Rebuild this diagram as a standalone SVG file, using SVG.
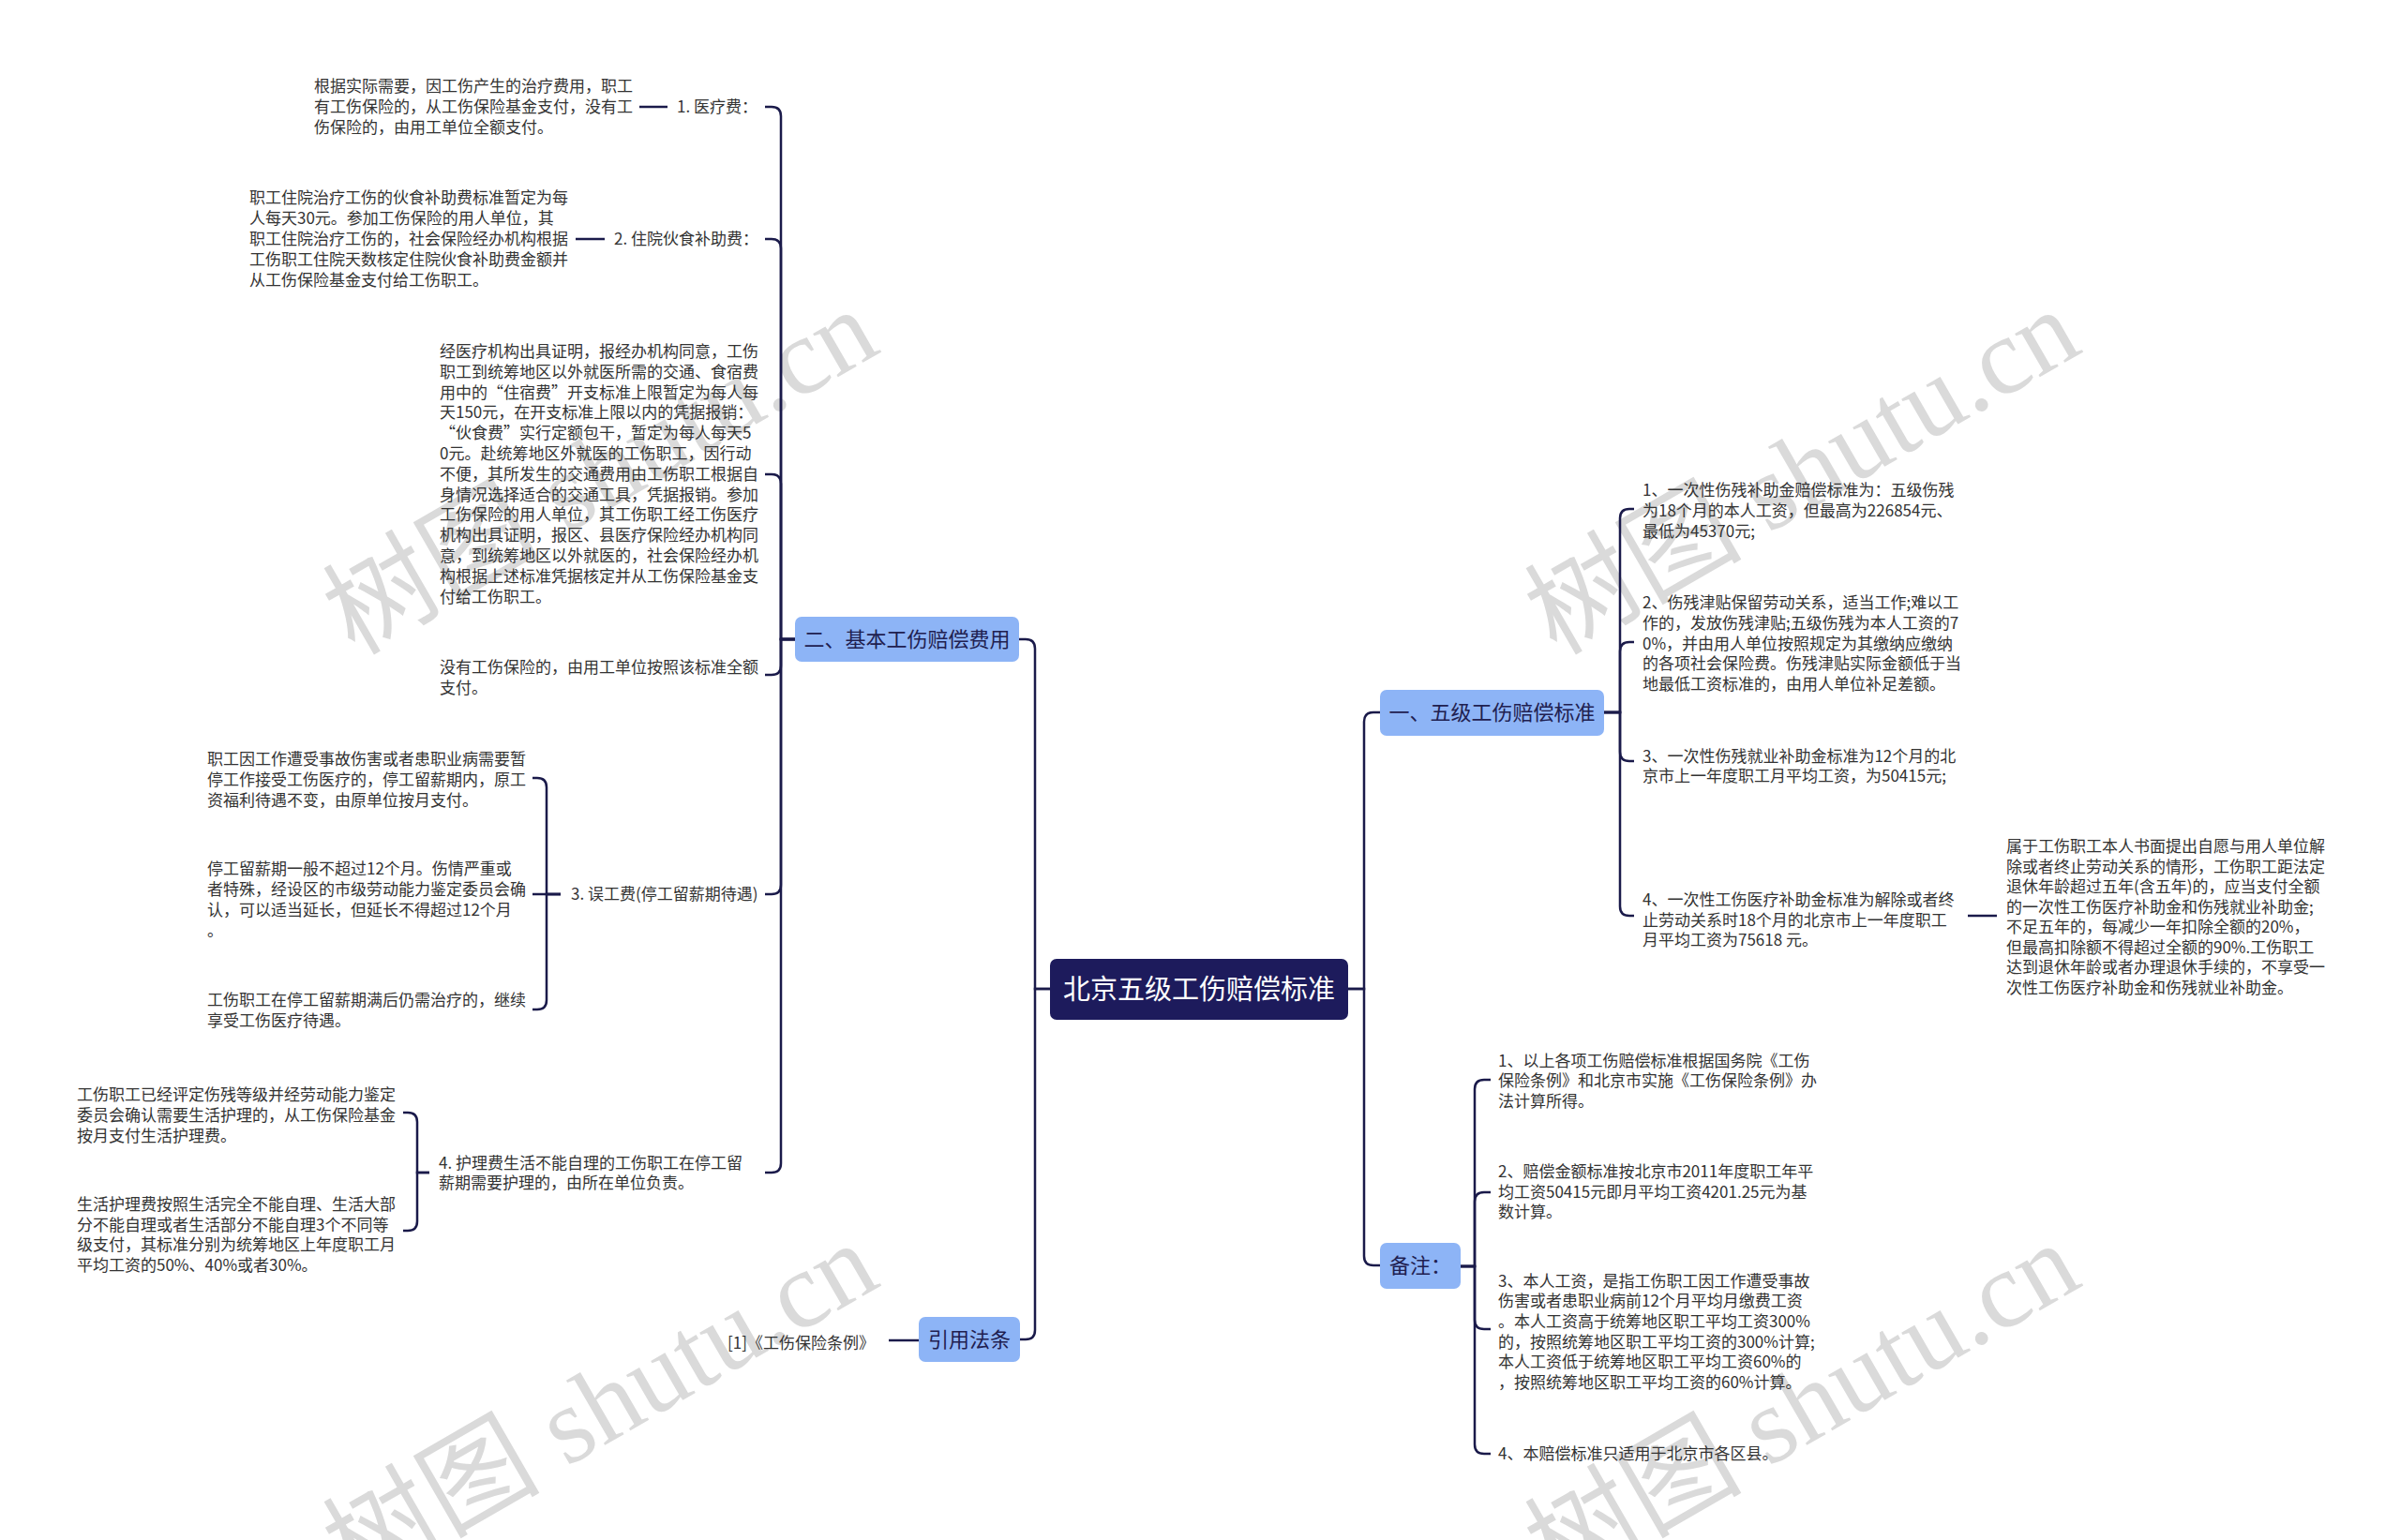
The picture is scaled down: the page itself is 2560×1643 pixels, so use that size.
<svg xmlns="http://www.w3.org/2000/svg" width="2560" height="1643" viewBox="0 0 2560 1643">
<style>
.t{font-family:"Noto Sans CJK SC","Liberation Sans",sans-serif;font-size:17px;fill:#333}
.l1{font-family:"Noto Sans CJK SC","Liberation Sans",sans-serif;font-size:22px;fill:#1f2050}
.root{font-family:"Noto Sans CJK SC","Liberation Sans",sans-serif;font-size:29px;fill:#fff}
.c{fill:none;stroke:#1a1a4a;stroke-width:2.5}
.b1{fill:#8db4f6}
.wm{font-family:"Liberation Serif","Noto Sans CJK SC",serif;font-size:116px;fill:#dadada}
</style>
<rect width="2560" height="1643" fill="#fff"/>
<g id="watermarks">
<text class="wm" x="378" y="700" transform="rotate(-30 378 700)">树图 shutu.cn</text>
<text class="wm" x="1660" y="700" transform="rotate(-30 1660 700)">树图 shutu.cn</text>
<text class="wm" x="378" y="1696" transform="rotate(-30 378 1696)">树图 shutu.cn</text>
<text class="wm" x="1660" y="1696" transform="rotate(-30 1660 1696)">树图 shutu.cn</text>
</g>
<g id="connectors">
<path class="c" d="M1120,1055 H1104 V692 Q1104,682 1094,682 H1087"/>
<path class="c" d="M1120,1055 H1104 V1419 Q1104,1429 1094,1429 H1088"/>
<path class="c" d="M1438,1055 H1455 V770 Q1455,760 1465,760 H1472"/>
<path class="c" d="M1438,1055 H1455 V1340 Q1455,1350 1465,1350 H1472"/>
<path class="c" d="M848,682 H833 V124 Q833,114 823,114 H816"/>
<path class="c" d="M848,682 H833 V265 Q833,255 823,255 H816"/>
<path class="c" d="M848,682 H833 V516 Q833,506 823,506 H816"/>
<path class="c" d="M848,682 H833 V710 Q833,720 823,720 H816"/>
<path class="c" d="M848,682 H833 V944 Q833,954 823,954 H816"/>
<path class="c" d="M848,682 H833 V1241 Q833,1251 823,1251 H816"/>
<path class="c" d="M712,114 H682"/>
<path class="c" d="M645,255 H614"/>
<path class="c" d="M598,954 H583 V840 Q583,830 573,830 H568"/>
<path class="c" d="M598,954 H568"/>
<path class="c" d="M598,954 H583 V1067 Q583,1077 573,1077 H568"/>
<path class="c" d="M458,1251 H445 V1197 Q445,1187 435,1187 H430"/>
<path class="c" d="M458,1251 H445 V1303 Q445,1313 435,1313 H430"/>
<path class="c" d="M980,1430 H948"/>
<path class="c" d="M1711,760 H1728 V553 Q1728,543 1738,543 H1743"/>
<path class="c" d="M1711,760 H1728 V695 Q1728,685 1738,685 H1743"/>
<path class="c" d="M1711,760 H1728 V802 Q1728,812 1738,812 H1743"/>
<path class="c" d="M1711,760 H1728 V967 Q1728,977 1738,977 H1743"/>
<path class="c" d="M2099,977 H2130"/>
<path class="c" d="M1558,1351 H1573 V1162 Q1573,1152 1583,1152 H1590"/>
<path class="c" d="M1558,1351 H1573 V1282 Q1573,1272 1583,1272 H1590"/>
<path class="c" d="M1558,1351 H1573 V1408 Q1573,1418 1583,1418 H1590"/>
<path class="c" d="M1558,1351 H1573 V1541 Q1573,1551 1583,1551 H1590"/>
</g>
<g id="root">
<rect x="1120" y="1023" width="318" height="65" rx="7" fill="#1d1b5c"/>
<text class="root" x="1279" y="1066" text-anchor="middle">北京五级工伤赔偿标准</text>
</g>
<g id="n-basic">
<rect class="b1" x="848" y="658" width="239" height="48" rx="7"/>
<text class="l1" x="967.5" y="690" text-anchor="middle">二、基本工伤赔偿费用</text>
</g>
<g id="n-law">
<rect class="b1" x="980" y="1405" width="108" height="48" rx="7"/>
<text class="l1" x="1034" y="1437" text-anchor="middle">引用法条</text>
</g>
<g id="n-std">
<rect class="b1" x="1472" y="736" width="239" height="49" rx="7"/>
<text class="l1" x="1591.5" y="768" text-anchor="middle">一、五级工伤赔偿标准</text>
</g>
<g id="n-note">
<rect class="b1" x="1472" y="1326" width="86" height="49" rx="7"/>
<text class="l1" x="1482" y="1358">备注：</text>
</g>
<g id="n-medical">
<text class="t" x="722" y="120">1. 医疗费：</text>
</g>
<g id="n-medical-d">
<text class="t"><tspan x="335" y="98">根据实际需要，因工伤产生的治疗费用，职工</tspan><tspan x="335" y="120">有工伤保险的，从工伤保险基金支付，没有工</tspan><tspan x="335" y="142">伤保险的，由用工单位全额支付。</tspan></text>
</g>
<g id="n-food">
<text class="t" x="655" y="261">2. 住院伙食补助费：</text>
</g>
<g id="n-food-d">
<text class="t"><tspan x="266" y="217">职工住院治疗工伤的伙食补助费标准暂定为每</tspan><tspan x="266" y="239">人每天30元。参加工伤保险的用人单位，其</tspan><tspan x="266" y="261">职工住院治疗工伤的，社会保险经办机构根据</tspan><tspan x="266" y="283">工伤职工住院天数核定住院伙食补助费金额并</tspan><tspan x="266" y="305">从工伤保险基金支付给工伤职工。</tspan></text>
</g>
<g id="n-travel">
<text class="t"><tspan x="469" y="381">经医疗机构出具证明，报经办机构同意，工伤</tspan><tspan x="469" y="402.8">职工到统筹地区以外就医所需的交通、食宿费</tspan><tspan x="469" y="424.6">用中的“住宿费”开支标准上限暂定为每人每</tspan><tspan x="469" y="446.4">天150元，在开支标准上限以内的凭据报销：</tspan><tspan x="469" y="468.2">“伙食费”实行定额包干，暂定为每人每天5</tspan><tspan x="469" y="490">0元。赴统筹地区外就医的工伤职工，因行动</tspan><tspan x="469" y="511.8">不便，其所发生的交通费用由工伤职工根据自</tspan><tspan x="469" y="533.6">身情况选择适合的交通工具，凭据报销。参加</tspan><tspan x="469" y="555.4">工伤保险的用人单位，其工伤职工经工伤医疗</tspan><tspan x="469" y="577.2">机构出具证明，报区、县医疗保险经办机构同</tspan><tspan x="469" y="599">意，到统筹地区以外就医的，社会保险经办机</tspan><tspan x="469" y="620.8">构根据上述标准凭据核定并从工伤保险基金支</tspan><tspan x="469" y="642.6">付给工伤职工。</tspan></text>
</g>
<g id="n-noins">
<text class="t"><tspan x="469" y="718">没有工伤保险的，由用工单位按照该标准全额</tspan><tspan x="469" y="740">支付。</tspan></text>
</g>
<g id="n-wage">
<text class="t" x="609" y="960">3. 误工费(停工留薪期待遇)</text>
</g>
<g id="n-wage-1">
<text class="t"><tspan x="221" y="816">职工因工作遭受事故伤害或者患职业病需要暂</tspan><tspan x="221" y="838">停工作接受工伤医疗的，停工留薪期内，原工</tspan><tspan x="221" y="860">资福利待遇不变，由原单位按月支付。</tspan></text>
</g>
<g id="n-wage-2">
<text class="t"><tspan x="221" y="933">停工留薪期一般不超过12个月。伤情严重或</tspan><tspan x="221" y="955">者特殊，经设区的市级劳动能力鉴定委员会确</tspan><tspan x="221" y="977">认，可以适当延长，但延长不得超过12个月</tspan><tspan x="221" y="999">。</tspan></text>
</g>
<g id="n-wage-3">
<text class="t"><tspan x="221" y="1073">工伤职工在停工留薪期满后仍需治疗的，继续</tspan><tspan x="221" y="1095">享受工伤医疗待遇。</tspan></text>
</g>
<g id="n-care">
<text class="t"><tspan x="468" y="1247">4. 护理费生活不能自理的工伤职工在停工留</tspan><tspan x="468" y="1268">薪期需要护理的，由所在单位负责。</tspan></text>
</g>
<g id="n-care-1">
<text class="t"><tspan x="82" y="1174">工伤职工已经评定伤残等级并经劳动能力鉴定</tspan><tspan x="82" y="1196">委员会确认需要生活护理的，从工伤保险基金</tspan><tspan x="82" y="1218">按月支付生活护理费。</tspan></text>
</g>
<g id="n-care-2">
<text class="t"><tspan x="82" y="1291">生活护理费按照生活完全不能自理、生活大部</tspan><tspan x="82" y="1313">分不能自理或者生活部分不能自理3个不同等</tspan><tspan x="82" y="1334">级支付，其标准分别为统筹地区上年度职工月</tspan><tspan x="82" y="1356">平均工资的50%、40%或者30%。</tspan></text>
</g>
<g id="n-law-1">
<text class="t" x="933" y="1439" text-anchor="end">[1]《工伤保险条例》</text>
</g>
<g id="n-std-1">
<text class="t"><tspan x="1752" y="529">1、一次性伤残补助金赔偿标准为：五级伤残</tspan><tspan x="1752" y="551">为18个月的本人工资，但最高为226854元、</tspan><tspan x="1752" y="573">最低为45370元;</tspan></text>
</g>
<g id="n-std-2">
<text class="t"><tspan x="1752" y="649">2、伤残津贴保留劳动关系，适当工作;难以工</tspan><tspan x="1752" y="671">作的，发放伤残津贴;五级伤残为本人工资的7</tspan><tspan x="1752" y="693">0%，并由用人单位按照规定为其缴纳应缴纳</tspan><tspan x="1752" y="714">的各项社会保险费。伤残津贴实际金额低于当</tspan><tspan x="1752" y="736">地最低工资标准的，由用人单位补足差额。</tspan></text>
</g>
<g id="n-std-3">
<text class="t"><tspan x="1752" y="813">3、一次性伤残就业补助金标准为12个月的北</tspan><tspan x="1752" y="834">京市上一年度职工月平均工资，为50415元;</tspan></text>
</g>
<g id="n-std-4">
<text class="t"><tspan x="1752" y="966">4、一次性工伤医疗补助金标准为解除或者终</tspan><tspan x="1752" y="988">止劳动关系时18个月的北京市上一年度职工</tspan><tspan x="1752" y="1009">月平均工资为75618 元。</tspan></text>
</g>
<g id="n-std-4-1">
<text class="t"><tspan x="2140" y="909">属于工伤职工本人书面提出自愿与用人单位解</tspan><tspan x="2140" y="930.5">除或者终止劳动关系的情形，工伤职工距法定</tspan><tspan x="2140" y="952">退休年龄超过五年(含五年)的，应当支付全额</tspan><tspan x="2140" y="973.5">的一次性工伤医疗补助金和伤残就业补助金;</tspan><tspan x="2140" y="995">不足五年的，每减少一年扣除全额的20%，</tspan><tspan x="2140" y="1016.5">但最高扣除额不得超过全额的90%.工伤职工</tspan><tspan x="2140" y="1038">达到退休年龄或者办理退休手续的，不享受一</tspan><tspan x="2140" y="1059.5">次性工伤医疗补助金和伤残就业补助金。</tspan></text>
</g>
<g id="n-note-1">
<text class="t"><tspan x="1598" y="1138">1、以上各项工伤赔偿标准根据国务院《工伤</tspan><tspan x="1598" y="1159">保险条例》和北京市实施《工伤保险条例》办</tspan><tspan x="1598" y="1181">法计算所得。</tspan></text>
</g>
<g id="n-note-2">
<text class="t"><tspan x="1598" y="1256">2、赔偿金额标准按北京市2011年度职工年平</tspan><tspan x="1598" y="1278">均工资50415元即月平均工资4201.25元为基</tspan><tspan x="1598" y="1299">数计算。</tspan></text>
</g>
<g id="n-note-3">
<text class="t"><tspan x="1598" y="1373">3、本人工资，是指工伤职工因工作遭受事故</tspan><tspan x="1598" y="1394">伤害或者患职业病前12个月平均月缴费工资</tspan><tspan x="1598" y="1416">。本人工资高于统筹地区职工平均工资300%</tspan><tspan x="1598" y="1438">的，按照统筹地区职工平均工资的300%计算;</tspan><tspan x="1598" y="1459">本人工资低于统筹地区职工平均工资60%的</tspan><tspan x="1598" y="1481">，按照统筹地区职工平均工资的60%计算。</tspan></text>
</g>
<g id="n-note-4">
<text class="t" x="1598" y="1557">4、本赔偿标准只适用于北京市各区县。</text>
</g>
</svg>
